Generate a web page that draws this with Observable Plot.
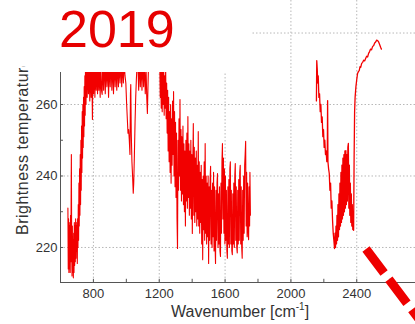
<!DOCTYPE html>
<html>
<head>
<meta charset="utf-8">
<script src="https://cdn.jsdelivr.net/npm/d3@7"></script>
<script src="https://cdn.jsdelivr.net/npm/@observablehq/plot@0.6"></script>
<style>
html,body{margin:0;padding:0;background:#fff;}
#wrap{position:relative;width:415px;height:324px;overflow:hidden;font-family:"Liberation Sans",Arial,sans-serif;}
#wrap svg{position:absolute;left:0;top:0;}
#ylab{position:absolute;left:15px;top:235px;transform:rotate(-90deg);transform-origin:0 0;white-space:nowrap;font-size:16px;line-height:16px;letter-spacing:0.5px;color:#333;}
#mask1{position:absolute;left:59px;top:0;width:193px;height:72px;background:#fff;}
#mask2{position:absolute;left:0;top:0;width:59px;height:66px;background:#fff;}
#title{position:absolute;left:59px;top:3px;font-size:52px;line-height:52px;color:#e60000;}
#xlab{position:absolute;left:171px;top:304px;font-size:16px;line-height:16px;color:#333;white-space:nowrap;}
#xlab sup{font-size:10px;line-height:0;vertical-align:7px;}
#arrow{position:absolute;left:0;top:0;}
</style>
</head>
<body>
<div id="wrap"></div>
<script>
// Segment 1: [wavenumber cm^-1, brightness temperature K]
const seg1 = [
[645,231],[647,214],[649,228],[651,213],[653,226],[655,214],[657,227],[659,213],[661,229],[663,216],[665,238],[666,246],[668,220],[670,212],[672,226],[674,213],[676,222],[678,211.5],[680,224],[682,213],[684,227],[686,215],[688,226],[690,216],[692,228],[694,217],[696,227],[698,219],[700,226],[702,215.5],[704,228],[706,220],[708,232],[710,222],[712,238],[714,226],[716,242],[718,229],[720,246],[722,232],[724,250],[726,236],[728,254],[730,241],[732,258],[734,245],[736,260],[738,248],[740,262],[742,251],[744,265],[746,254],[748,268],[750,257],[752,272],[755,260],[758,273],
[762,262],[766,273],[770,263],[774,272],[778,261],[782,273],[786,262],[790,272],[794,255.8],[797,272],[801,263],[805,273],[809,262],[813,272],[817,264],[821,273],[825,263],[829,272],[833,264],[837,273],[841,262],[845,272],[849,264],[853,262.8],[857,272],[862,264],[867,273],[872,263],[877,272],[882,265],[887,273],[892,262],[897,272],[902,265],[907,273],[912,264],[917,272],[922,263],[927,273],[932,265],[937,272],[942,264],[947,273],[952,265],[957,272],[962,266],[967,273],[972,265],[977,272],[982,266],[987,272],[992,268],[997,266],
[1002,260],[1006,256],[1010,252],[1014,253],[1018,250],[1022,246],[1025,263],[1027,265.6],[1030,252],[1034,244],[1038,240],[1042,235.2],[1045,238],[1049,246],[1053,255],[1057,262],[1061,267],[1065,271],[1070,272],[1075,264],[1080,273],[1085,265],[1090,272],[1095,264],[1100,273],[1105,265],[1110,272],[1115,263],[1120,270],[1124,262],[1128,257.5],[1132,266],[1137,275],[1145,278],[1155,280],[1165,279],[1175,281],[1185,279],[1195,277],
[1203,272],[1206,262],[1209,270],[1212,259],[1215,271],[1218,258],[1221,269],[1224,260],[1227,272],[1230,257],[1233,268],[1236,259],[1239,270],[1242,256],[1245,266],[1248,252],[1251,264],[1254,247],[1257,262],[1260,244],[1263,258],[1266,241],[1269,260],[1272,238],[1275,256],[1278,243],[1281,261],[1284,246],[1287,263.6],[1290,240],[1293,258],[1296,237],[1299,255],[1302,234],[1305,252],[1308,228],[1311,219.7],[1314,250],[1317,236],[1320,256],[1323,240],[1326,261.4],[1329,236],[1332,253],[1335,233],[1338,251],[1341,235],[1344,254],[1347,232],[1350,249],[1353,230],[1356,247],[1359,226],[1362,250],[1365,233],[1368,252],[1371,231],[1374,256.6],[1377,234],[1380,249],[1383,229],[1386,247],[1389,231],[1392,250],[1395,228],[1398,246],[1401,223.9],[1404,244],[1407,254.7],[1410,229],[1413,248],[1416,227],[1419,245],[1422,230],[1425,247],[1428,226],[1431,243],[1434,228],[1437,252.4],[1440,226],[1443,244],[1446,224],[1449,241],[1452,227],[1455,243],[1458,221],[1461,239],[1464,216.6],[1467,240],[1470,225],[1473,244],[1476,222],[1479,249.1],[1482,224],[1485,240],[1488,221],[1491,238],[1494,223],[1497,240],[1500,215.5],[1503,237],[1506,222],[1509,239],[1512,242.7],[1515,221],[1518,236],[1521,220],[1524,238],[1527,223],[1530,241],[1533,219],[1536,237],[1539,221],[1542,215.5],[1545,236],[1548,222],[1551,238],[1554,240.7],[1557,220],[1560,235],[1563,221],[1566,237],[1569,219],[1572,217.5],[1575,238],[1578,224],[1581,244],[1584,249.1],[1587,228],[1590,245],[1593,224],[1596,242],[1599,221],[1602,240],[1605,222],[1608,236],[1611,219],[1614,217],[1617,237],[1620,221],[1623,239],[1626,220],[1629,242],[1632,244],[1635,221],[1638,236],[1641,219],[1644,218],[1647,235],[1650,221],[1653,238],[1656,220],[1659,240],[1662,243.5],[1665,222],[1668,237],[1671,220],[1674,218.5],[1677,236],[1680,221],[1683,239],[1686,222],[1689,241],[1692,243],[1695,221],[1698,237],[1701,220],[1704,217],[1707,236],[1710,222],[1713,240],[1716,224],[1719,243],[1722,246],[1725,249.7],[1728,226],[1731,241],[1734,223],[1737,238],[1740,225],[1743,222.2],[1746,237],[1749,226],[1751,241],[1754,229]
];
// Segment 2: CO2 band edge
const seg2 = [
[2155,261],[2157,272.3],[2160,270],[2163,266],[2166,268],[2170,262],[2174,263],[2178,258],[2182,260],[2186,255],[2190,256.5],[2194,251],[2198,253],[2202,248],[2206,250],[2210,246],[2214,247],[2218,244],[2221,246.3],[2223,261.1],[2225,244],[2229,242],[2233,240.7],[2237,236],[2241,238],[2245,231],[2249,233],[2253,227.6],[2257,224],[2261,222],[2265,219.7],[2268,224],[2271,220],[2274,226],[2277,221],[2280,229],[2283,222],[2286,232],[2289,223],[2292,235],[2295,225],[2298,238],[2301,226],[2304,241],[2307,227],[2310,243],[2313,228],[2316,245],[2319,229],[2322,246],[2325,230],[2328,247],[2331,231],[2334,247.1],[2337,232],[2340,246],[2343,233],[2346,248],[2349,249.1],[2352,231],[2355,243],[2358,229],[2361,238],[2364,227],[2367,235],[2370,226],[2373,232],[2376,225],[2379,229],[2381,224.8],[2384,245],[2387,258],[2390,262],[2395,265],[2400,267],[2405,268.7],[2410,269.2],[2415,269.5],[2420,270.6],[2424,270.4],[2430,271.5],[2436,271.8],[2442,272.4],[2448,272.2],[2454,272.9],[2460,273.5],[2466,273.3],[2472,274.3],[2478,274.8],[2484,275.5],[2490,275.3],[2496,276.2],[2503,276.5],[2509,277.2],[2515,277.5],[2521,278],[2527,277.9],[2533,277.5],[2539,276.8],[2545,276],[2550,275.5]
];

const xTickValues = [800,1200,1600,2000,2400];
const xMinorTicks = [600,800,1000,1200,1400,1600,1800,2000,2200,2400,2600];
const yTickValues = [220,240,260,280];
const yMinorTicks = [220,230,240,250,260,270,280];
const xDomain = [600,2757];
const yDomain = [210.2,289.1];
const titleText = "2019";
const yLabel = "Brightness temperature";

const gridStyle = {stroke:"#b8b8b8", strokeWidth:1, strokeDasharray:"1.5,2"};
const axisCol = "#555";

const chart = Plot.plot({
  width:415, height:324,
  marginLeft:60, marginRight:0, marginTop:0, marginBottom:42,
  style:{fontFamily:"Liberation Sans, Arial, sans-serif", fontSize:"13px", color:"#333", background:"transparent"},
  x:{domain:xDomain, ticks:xTickValues, tickSize:0, tickPadding:6, label:null, tickFormat:d=>String(d)},
  y:{domain:yDomain, ticks:yTickValues, tickSize:0, tickPadding:3, label:null, tickFormat:d=>String(d)},
  marks:[
    Plot.ruleX(xTickValues, gridStyle),
    Plot.ruleY(yTickValues, gridStyle),
    Plot.ruleX(xMinorTicks, {y1:yDomain[0], y2:yDomain[0]+0.9, stroke:axisCol}),
    Plot.ruleY(yMinorTicks, {x1:xDomain[0], x2:xDomain[0]+18, stroke:axisCol}),
    Plot.line(seg1, {x:d=>d[0], y:d=>d[1], stroke:"#f20000", strokeWidth:1.1}),
    Plot.line(seg2, {x:d=>d[0], y:d=>d[1], stroke:"#f20000", strokeWidth:1.3}),
    Plot.ruleX([xDomain[0]], {stroke:axisCol}),
    Plot.ruleY([yDomain[0]], {stroke:axisCol})
  ]
});

const wrap = document.getElementById("wrap");
wrap.appendChild(chart);

const ylab = document.createElement("div"); ylab.id="ylab"; ylab.textContent = yLabel; wrap.appendChild(ylab);
const m1 = document.createElement("div"); m1.id="mask1"; wrap.appendChild(m1);
const m2 = document.createElement("div"); m2.id="mask2"; wrap.appendChild(m2);
const t = document.createElement("div"); t.id="title"; t.textContent = titleText; wrap.appendChild(t);
const xl = document.createElement("div"); xl.id="xlab"; xl.innerHTML = "Wavenumber [cm<sup>-1</sup>]"; wrap.appendChild(xl);

const ns = "http://www.w3.org/2000/svg";
const arr = document.createElementNS(ns,"svg");
arr.setAttribute("id","arrow"); arr.setAttribute("width","415"); arr.setAttribute("height","324");
const ln = document.createElementNS(ns,"line");
ln.setAttribute("x1","366"); ln.setAttribute("y1","249");
ln.setAttribute("x2","440"); ln.setAttribute("y2","347");
ln.setAttribute("stroke","#ee0000"); ln.setAttribute("stroke-width","9");
ln.setAttribute("stroke-dasharray","30 8");
arr.appendChild(ln);
wrap.appendChild(arr);
</script>
</body>
</html>
